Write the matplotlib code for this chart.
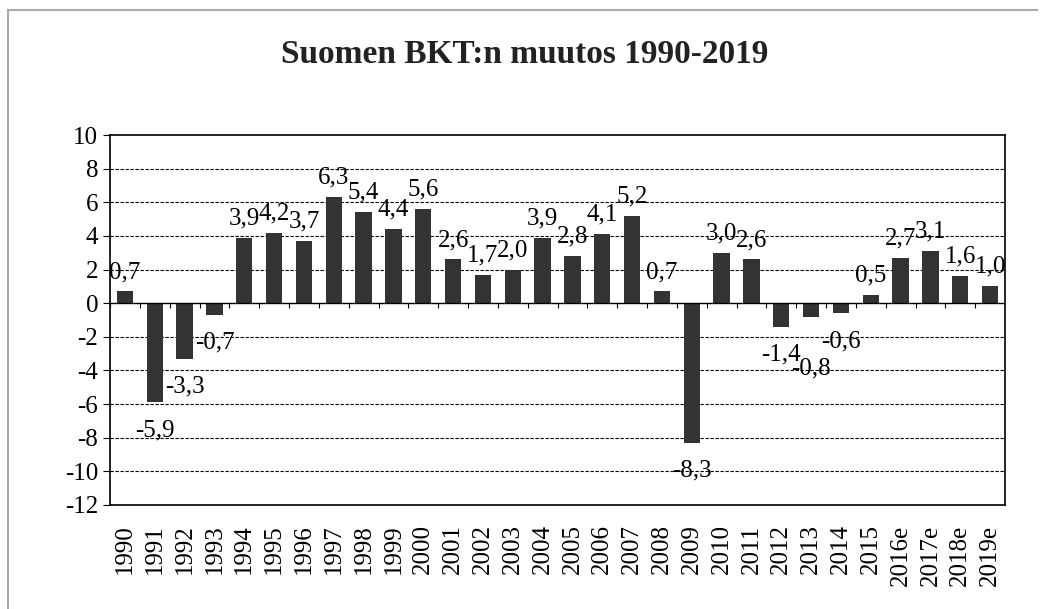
import numpy as np
import matplotlib.pyplot as plt
from matplotlib.lines import Line2D

years = ['1990', '1991', '1992', '1993', '1994', '1995', '1996', '1997', '1998', '1999',
         '2000', '2001', '2002', '2003', '2004', '2005', '2006', '2007', '2008', '2009',
         '2010', '2011', '2012', '2013', '2014', '2015', '2016e', '2017e', '2018e', '2019e']
growth = [0.7, -5.9, -3.3, -0.7, 3.9, 4.2, 3.7, 6.3, 5.4, 4.4,
          5.6, 2.6, 1.7, 2.0, 3.9, 2.8, 4.1, 5.2, 0.7, -8.3,
          3.0, 2.6, -1.4, -0.8, -0.6, 0.5, 2.7, 3.1, 1.6, 1.0]
yticks = list(range(-12, 11, 2))

plt.rcParams['font.family'] = ['Liberation Serif', 'DejaVu Serif']
plt.rcParams['axes.unicode_minus'] = False

fig = plt.figure(figsize=(10.42, 6.09), dpi=100)
ax = fig.add_axes([0.1056, 0.1708, 0.8589, 0.6075])

x = np.arange(len(years))
ax.bar(x, growth, width=0.55, color='#333333', zorder=3)

# dashed grid, solid zero line
for v in yticks[1:-1]:
    if v != 0:
        ax.axhline(v, color='black', lw=0.8, ls=(0, (3, 1.5)), zorder=1)
ax.axhline(0, color='black', lw=1.0, zorder=4)
ax.vlines(np.arange(len(years) + 1) - 0.5, -0.3, 0, color='black', lw=0.8, zorder=4)

# labels outside bar ends; 2013 pushed lower to clear 2012's label
extra = {'2013': -17}
for xi, yr, v in zip(x, years, growth):
    lab = f'{v:.1f}'.replace('.', ',')
    off = 14 if v >= 0 else -20
    off += extra.get(yr, 0)
    ax.annotate(lab, (xi, v), xytext=(0, off), textcoords='offset points',
                ha='center', va='center', fontsize=18, zorder=5)

ax.set_xlim(-0.5, len(years) - 0.5)
ax.set_ylim(-12, 10)
ax.set_yticks(yticks)
ax.set_xticks(x)
ax.set_xticklabels(years, rotation=90, fontsize=18)
ax.tick_params(axis='x', length=0, pad=14)
ax.tick_params(axis='y', labelsize=18, length=5, width=0.8, direction='out')
for s in ax.spines.values():
    s.set_linewidth(1.2)

fig.text(0.504, 0.91, 'Suomen BKT:n muutos 1990-2019', ha='center', va='center',
         fontsize=24, fontweight='bold', color='#222222')

# light frame of the chart area
fig.add_artist(Line2D([0.008, 0.995], [0.984, 0.984], color='#aaaaaa', lw=1.5))
fig.add_artist(Line2D([0.008, 0.008], [0.0, 0.984], color='#aaaaaa', lw=1.5))

fig.savefig('out.png', dpi=100)
